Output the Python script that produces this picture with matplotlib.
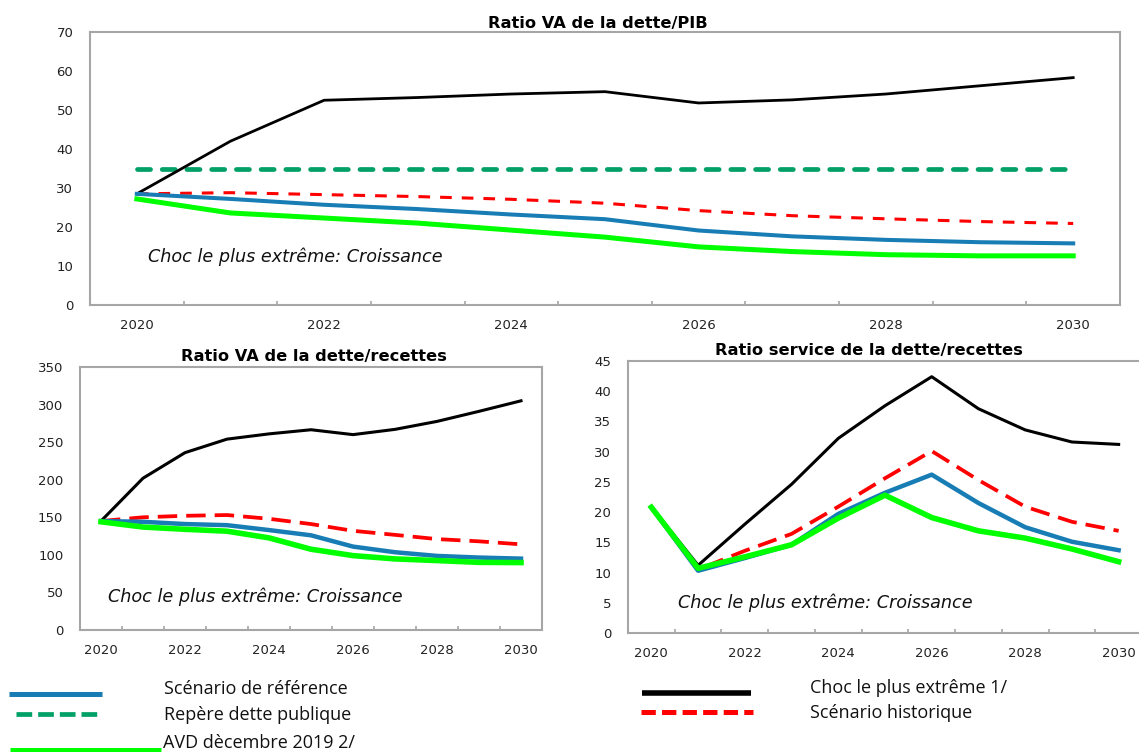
import numpy as np
import matplotlib
matplotlib.use("Agg")
import matplotlib.pyplot as plt
from matplotlib.lines import Line2D
from matplotlib.ticker import FixedLocator

plt.rcParams["font.family"] = ["DejaVu Sans"]
plt.rcParams["lines.scale_dashes"] = False

# ---------------- data ----------------
years = [2020, 2021, 2022, 2023, 2024, 2025, 2026, 2027, 2028, 2029, 2030]
xtick_years = [2020, 2022, 2024, 2026, 2028, 2030]

# Ratio VA de la dette/PIB
pib_reference = [28.5, 27.2, 25.7, 24.6, 23.2, 22.0, 19.1, 17.6, 16.7, 16.1, 15.8]
pib_benchmark = [35, 35, 35, 35, 35, 35, 35, 35, 35, 35, 35]
pib_avd2019 = [27.2, 23.6, 22.3, 21.0, 19.2, 17.4, 14.9, 13.7, 12.9, 12.6, 12.6]
pib_shock = [28.5, 42.0, 52.5, 53.2, 54.1, 54.7, 51.8, 52.6, 54.1, 56.2, 58.3]
pib_historic = [28.5, 28.8, 28.3, 27.8, 27.1, 26.1, 24.2, 22.9, 22.1, 21.4, 20.9]

# Ratio VA de la dette/recettes
rec_reference = [145, 144, 141, 139.5, 133, 126, 111, 103.5, 98.6, 96.4, 95]
rec_avd2019 = [144, 137, 134, 131.5, 122.6, 107.5, 99, 94.6, 92.4, 90, 89.7]
rec_shock = [145, 202, 236, 254, 261, 266.5, 260, 267, 277.6, 291, 305]
rec_historic = [145, 150, 152, 153, 148, 141, 132, 126.6, 121, 118, 114]

# Ratio service de la dette/recettes
srv_reference = [20.8, 10.3, 12.4, 14.6, 19.7, 23.2, 26.2, 21.5, 17.5, 15.1, 13.7]
srv_avd2019 = [20.8, 10.7, 12.6, 14.6, 19.0, 22.8, 19.1, 16.9, 15.7, 13.9, 11.8]
srv_shock = [20.9, 11.2, 18.0, 24.6, 32.2, 37.6, 42.4, 37.1, 33.6, 31.6, 31.2]
srv_historic = [20.8, 10.5, 13.6, 16.4, 20.9, 25.6, 30.1, 25.3, 20.9, 18.4, 16.9]

titles = ["Ratio VA de la dette/PIB",
          "Ratio VA de la dette/recettes",
          "Ratio service de la dette/recettes"]
annotation = "Choc le plus extrême: Croissance"
legend_labels = ["Scénario de référence", "Repère dette publique",
                 "AVD dècembre 2019 2/", "Choc le plus extrême 1/",
                 "Scénario historique"]

C_REF = "#177DB4"
C_BENCH = "#00A067"
C_AVD = "#00FF00"
C_SHOCK = "#000000"
C_HIST = "#FF0000"
C_SPINE = "#A6A6A6"
C_TXT = "#222222"

W, H = 1139, 752
fig = plt.figure(figsize=(W / 100, H / 100), dpi=100)
fig.patch.set_facecolor("white")


def px_axes(l, t, r, b):
    return fig.add_axes([l / W, 1 - b / H, (r - l) / W, (b - t) / H])


def style(ax, ymax, ystep):
    ax.set_xlim(2019.5, 2030.5)
    ax.set_ylim(0, ymax)
    ax.set_yticks(np.arange(0, ymax + ystep / 2, ystep))
    ax.set_xticks(xtick_years)
    ax.xaxis.set_minor_locator(FixedLocator(np.arange(2020.5, 2030, 1.0)))
    ax.tick_params(axis="x", which="major", length=0, pad=10, labelsize=9.5,
                   labelcolor=C_TXT)
    ax.tick_params(axis="x", which="minor", direction="in", length=3,
                   width=1.2, color=C_SPINE)
    ax.tick_params(axis="y", length=0, pad=12, labelsize=9.5, labelcolor=C_TXT)
    for s in ax.spines.values():
        s.set_color(C_SPINE)
        s.set_linewidth(1.5)


ax1 = px_axes(90, 32, 1120, 305)
ax2 = px_axes(80, 367, 542, 630)
ax3 = px_axes(628, 361, 1142, 633)

TITLE_FS = 11.7
ANN_FS = 12.7

# ---- top panel ----
style(ax1, 70, 10)
ax1.plot(years, pib_benchmark, color=C_BENCH, lw=3.4, dashes=(9.4, 8.4),
         dash_capstyle="round")
ax1.plot(years, pib_shock, color=C_SHOCK, lw=2.0)
ax1.plot(years, pib_historic, color=C_HIST, lw=2.2, dashes=(8.4, 7.2))
ax1.plot(years, pib_reference, color=C_REF, lw=2.9)
ax1.plot(years, pib_avd2019, color=C_AVD, lw=3.6)
ax1.text(0.0563, 0.156, annotation, transform=ax1.transAxes, ha="left",
         va="baseline", fontsize=ANN_FS, style="italic", color="#111111")
ax1.text(0.493, 1.013, titles[0], transform=ax1.transAxes, ha="center",
         va="baseline", fontsize=TITLE_FS, fontweight="bold")

# ---- bottom-left panel ----
style(ax2, 350, 50)
ax2.plot(years, rec_shock, color=C_SHOCK, lw=2.2)
ax2.plot(years, rec_historic, color=C_HIST, lw=2.7, dashes=(14, 6.5))
ax2.plot(years, rec_reference, color=C_REF, lw=3.2)
ax2.plot(years, rec_avd2019, color=C_AVD, lw=4.0)
ax2.text(0.0613, 0.1076, annotation, transform=ax2.transAxes, ha="left",
         va="baseline", fontsize=ANN_FS, style="italic", color="#111111")
ax2.text(0.5065, 1.0228, titles[1], transform=ax2.transAxes, ha="center",
         va="baseline", fontsize=TITLE_FS, fontweight="bold")

# ---- bottom-right panel ----
style(ax3, 45, 5)
ax3.plot(years, srv_shock, color=C_SHOCK, lw=2.2)
ax3.plot(years, srv_historic, color=C_HIST, lw=2.7, dashes=(14, 6.5))
ax3.plot(years, srv_reference, color=C_REF, lw=3.2)
ax3.plot(years, srv_avd2019, color=C_AVD, lw=4.0)
ax3.text(0.0967, 0.0908, annotation, transform=ax3.transAxes, ha="left",
         va="baseline", fontsize=ANN_FS, style="italic", color="#111111")
ax3.text(0.468, 1.022, titles[2], transform=ax3.transAxes, ha="center",
         va="baseline", fontsize=TITLE_FS, fontweight="bold")

# ---- legend (figure level) ----
def fx(x):
    return x / W


def fy(y):
    return 1 - y / H


def leg_line(x0, x1, y, **kw):
    fig.add_artist(Line2D([fx(x0), fx(x1)], [fy(y), fy(y)],
                          transform=fig.transFigure, solid_capstyle="butt",
                          dash_capstyle="butt", **kw))


leg_line(9, 102, 693.5, color=C_REF, lw=3.6)
leg_line(16, 102, 713.5, color=C_BENCH, lw=3.4, dashes=(11.3, 4.3))
leg_line(10, 161, 750, color=C_AVD, lw=3.6)
leg_line(642, 751, 692.5, color=C_SHOCK, lw=4.0)
leg_line(641, 753, 711.5, color=C_HIST, lw=3.6, dashes=(10.3, 4.5))

lfont = dict(family=["Open Sans", "DejaVu Sans"], fontsize=13, color="#111111",
             va="baseline", ha="left")
fig.text(fx(164), fy(694.3), legend_labels[0], **lfont)
fig.text(fx(164), fy(720.3), legend_labels[1], **lfont)
fig.text(fx(163), fy(747.5), legend_labels[2], **lfont)
fig.text(fx(810), fy(692.7), legend_labels[3], **lfont)
fig.text(fx(810), fy(718), legend_labels[4], **lfont)

fig.savefig("out.png", dpi=100)
